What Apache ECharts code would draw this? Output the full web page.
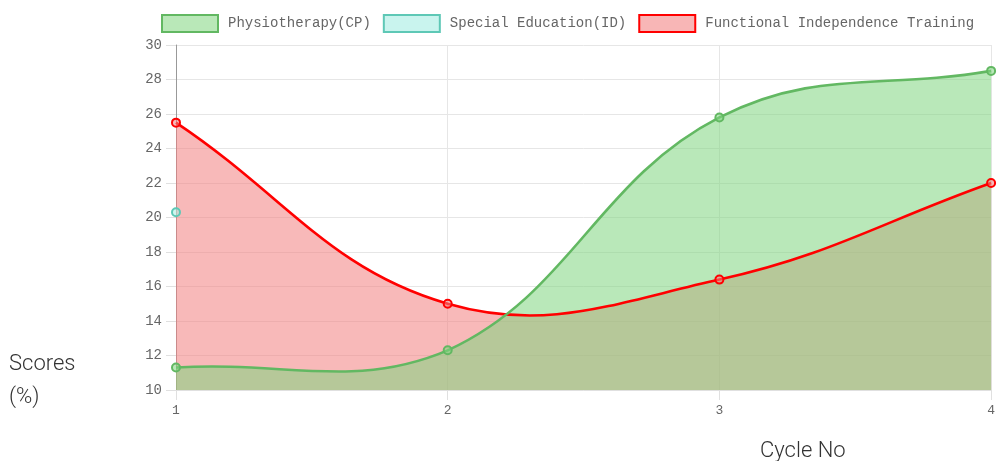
<!DOCTYPE html>
<html>
<head>
<meta charset="utf-8">
<script src="https://cdn.jsdelivr.net/npm/echarts@6/dist/echarts.min.js"></script>
<style>html,body{margin:0;padding:0;background:#fff;}#c{width:998px;height:461px;}</style>
</head>
<body>
<div id="c"></div>
<script>
const categories = ['1', '2', '3', '4'];
const seriesNames = ['Physiotherapy(CP)', 'Special Education(ID)', 'Functional Independence Training'];
const physiotherapy = [11.3, 12.3, 25.8, 28.5];
const specialEducation = [20.3, null, null, null];
const functionalTraining = [25.5, 15.0, 16.4, 22.0];
const yTicks = { min: 10, max: 30, interval: 2 };
const yTitle = ['Scores', '(%)'];
const xTitle = 'Cycle No';

const mono = '"Liberation Mono", "DejaVu Sans Mono", monospace';
const lineColors = ['#62b862', '#5ec8b6', '#ff0000'];
const fillColors = ['rgba(127,213,127,0.55)', 'rgba(170,238,226,0.55)', 'rgba(242,128,128,0.55)'];
const legendFill = ['#b9e8b8', '#c9f4ee', '#f8b6b6'];
const values = [physiotherapy, specialEducation, functionalTraining];
const TENSION = 0.4;

// Chart.js-like cardinal spline through pixel points, control points capped to area
function splineSegments(vals, api, area) {
  const segs = [];
  let cur = [];
  vals.forEach((v, i) => {
    if (v == null) { if (cur.length) segs.push(cur); cur = []; }
    else { const c = api.coord([i, v]); cur.push({ x: c[0], y: c[1] }); }
  });
  if (cur.length) segs.push(cur);
  const clamp = (p) => ({
    x: Math.min(Math.max(p.x, area.x), area.x + area.width),
    y: Math.min(Math.max(p.y, area.y), area.y + area.height)
  });
  return segs.map(pts => pts.map((p, i) => {
    const prev = pts[i - 1] || p, next = pts[i + 1] || p;
    const d01 = Math.hypot(p.x - prev.x, p.y - prev.y);
    const d12 = Math.hypot(next.x - p.x, next.y - p.y);
    let s01 = d01 / (d01 + d12), s12 = d12 / (d01 + d12);
    if (isNaN(s01)) s01 = 0; if (isNaN(s12)) s12 = 0;
    const fa = TENSION * s01, fb = TENSION * s12;
    return {
      x: p.x, y: p.y,
      cp0: clamp({ x: p.x - fa * (next.x - prev.x), y: p.y - fa * (next.y - prev.y) }),
      cp1: clamp({ x: p.x + fb * (next.x - prev.x), y: p.y + fb * (next.y - prev.y) })
    };
  }));
}
function curvePath(pts) {
  let d = 'M' + pts[0].x + ' ' + pts[0].y;
  for (let i = 1; i < pts.length; i++) {
    const a = pts[i - 1], b = pts[i];
    d += ' C' + a.cp1.x + ' ' + a.cp1.y + ' ' + b.cp0.x + ' ' + b.cp0.y + ' ' + b.x + ' ' + b.y;
  }
  return d;
}

function fillRenderer(idx) {
  return function (params, api) {
    if (params.dataIndex !== 0) return null;
    const area = params.coordSys;
    const bottom = api.coord([0, yTicks.min])[1];
    const children = splineSegments(values[idx], api, area).filter(s => s.length > 1).map(pts => ({
      type: 'path',
      shape: { pathData: curvePath(pts) + ' L' + pts[pts.length - 1].x + ' ' + bottom + ' L' + pts[0].x + ' ' + bottom + ' Z' },
      style: { fill: fillColors[idx], stroke: null }
    }));
    return { type: 'group', children: children, silent: true };
  };
}
function lineRenderer(idx) {
  return function (params, api) {
    if (params.dataIndex !== 0) return null;
    const area = params.coordSys;
    const children = [];
    splineSegments(values[idx], api, area).forEach(pts => {
      if (pts.length > 1) children.push({
        type: 'path', shape: { pathData: curvePath(pts) },
        style: { fill: null, stroke: lineColors[idx], lineWidth: 2.6 }
      });
      pts.forEach(p => children.push({
        type: 'circle', shape: { cx: p.x, cy: p.y, r: 4 },
        style: { fill: fillColors[idx], stroke: lineColors[idx], lineWidth: 2 }
      }));
    });
    return { type: 'group', children: children };
  };
}

const series = [];
for (let i = values.length - 1; i >= 0; i--) {
  series.push({
    name: seriesNames[i], type: 'custom', renderItem: fillRenderer(i),
    data: values[i].map((v, k) => [k, v]), encode: { x: 0, y: 1 }, z: 1, clip: true,
    itemStyle: { color: legendFill[i] }
  });
}
for (let i = values.length - 1; i >= 0; i--) {
  series.push({
    name: seriesNames[i], type: 'custom', renderItem: lineRenderer(i),
    data: values[i].map((v, k) => [k, v]), encode: { x: 0, y: 1 }, z: 3,
    itemStyle: { color: legendFill[i] }
  });
}

const chart = echarts.init(document.getElementById('c'), null, { renderer: 'canvas' });
chart.setOption({
  animation: false,
  backgroundColor: '#fff',
  legend: {
    top: 14, left: 161, padding: 0,
    itemWidth: 56, itemHeight: 17, itemGap: 12,
    icon: 'rect',
    textStyle: { fontFamily: mono, fontSize: 14, color: '#666', padding: [0, 0, 0, 5] },
    data: seriesNames.map((n, i) => ({ name: n, icon: 'rect', itemStyle: { color: legendFill[i], borderColor: lineColors[i], borderWidth: 2 } }))
  },
  grid: { left: 176, right: 4, top: 45, bottom: 71, containLabel: false },
  xAxis: {
    type: 'category', data: categories, boundaryGap: false,
    axisLine: { show: true, lineStyle: { color: '#e0e0e0' } },
    axisTick: { show: true, length: 10, lineStyle: { color: '#e0e0e0' } },
    axisLabel: { fontFamily: mono, fontSize: 13, color: '#666', margin: 14 },
    splitLine: { show: true, lineStyle: { color: '#e6e6e6' } }
  },
  yAxis: {
    type: 'value', min: yTicks.min, max: yTicks.max, interval: yTicks.interval,
    axisLine: { show: true, lineStyle: { color: '#999' } },
    axisTick: { show: true, length: 10, lineStyle: { color: '#e0e0e0' } },
    axisLabel: { fontFamily: mono, fontSize: 14, color: '#666', margin: 14 },
    splitLine: { show: true, lineStyle: { color: '#e6e6e6' } }
  },
  graphic: [
    { type: 'text', x: 9, y: 364, style: { text: yTitle[0], font: '300 22px Roboto', fill: '#333', verticalAlign: 'middle' } },
    { type: 'text', x: 9, y: 397, style: { text: yTitle[1], font: '300 22px Roboto', fill: '#333', verticalAlign: 'middle' } },
    { type: 'text', x: 760, y: 451, style: { text: xTitle, font: '300 22px Roboto', fill: '#333', verticalAlign: 'middle' } }
  ],
  series: series
});
</script>
</body>
</html>
